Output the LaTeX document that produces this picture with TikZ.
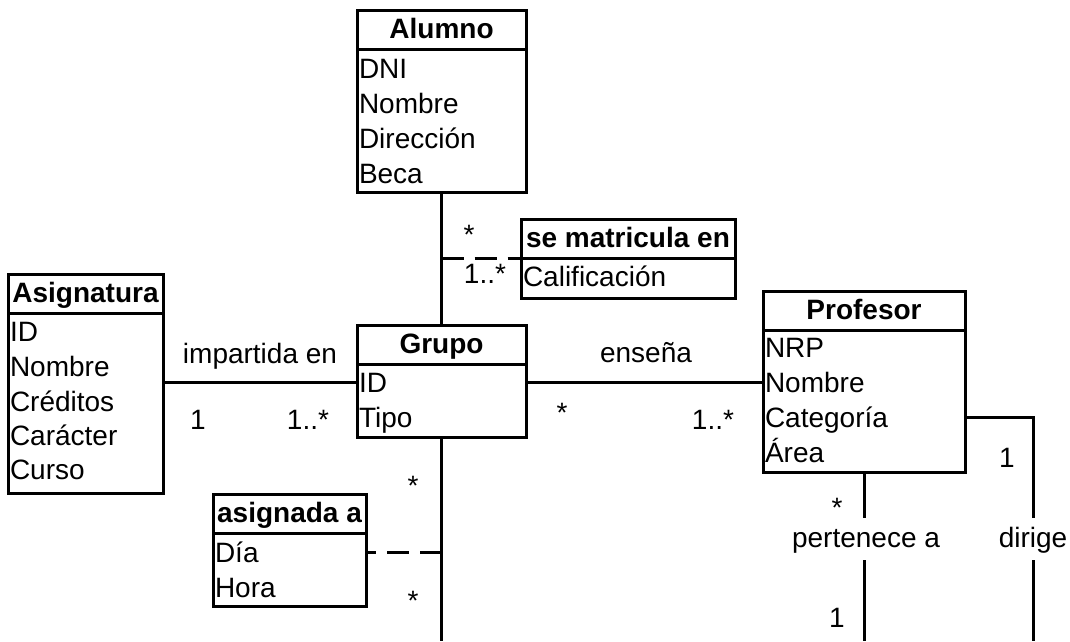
\documentclass[tikz,border=0pt]{standalone}
\usepackage{fontspec}
\setmainfont{Liberation Sans}
\usetikzlibrary{calc}
\begin{document}
\begin{tikzpicture}[x=1pt,y=-1pt,
  every node/.style={font=\fontsize{28}{35}\selectfont},
  hdr/.style={draw, line width=3pt, fill=white, inner sep=0pt, outer sep=0pt,
    minimum height=39pt, text height=24pt, text depth=7pt,
    font=\fontsize{28}{35}\selectfont\bfseries},
  bdy/.style={draw, line width=3pt, fill=white, inner sep=0pt, outer sep=0pt, anchor=north},
  att/.style={anchor=base west, inner sep=0pt, outer sep=0pt, text height=20pt, text depth=0pt},
  lbl/.style={anchor=base, inner sep=0pt, outer sep=0pt},
  star/.style={inner sep=0pt, outer sep=0pt},
  gap/.style={anchor=base, inner sep=0pt, outer sep=0pt, text height=29pt, text depth=13pt},
  conn/.style={line width=3pt},
  dsh/.style={line width=3pt, dash pattern=on 22pt off 11pt}]
\useasboundingbox (0,0) rectangle (1070,641);
\fill[white] (0,0) rectangle (1070,641);
\coordinate (bot) at (0,641);

% Alumno
\node[hdr, minimum width=169pt] (alH) at (441.5,29.5) {Alumno};
\node[bdy, minimum width=169pt, minimum height=143pt] (alB) at (alH.south) {};
\node[att] (al1) at (359,78) {DNI};
\node[att] (al2) at (359,113) {Nombre};
\node[att] (al3) at (359,148) {Dirección};
\node[att] (al4) at (359,183) {Beca};

% se matricula en
\node[hdr, minimum width=214pt] (smH) at (628,238.5) {se matricula en};
\node[bdy, minimum width=214pt, minimum height=40pt] (smB) at (smH.south) {};
\node[att] (sm1) at (523,286) {Calificación};

% Asignatura
\node[hdr, minimum width=155pt] (asH) at (85.5,293.5) {Asignatura};
\node[bdy, minimum width=155pt, minimum height=180pt] (asB) at (asH.south) {};
\node[att] (as1) at (10,341) {ID};
\node[att] (as2) at (10,376) {Nombre};
\node[att] (as3) at (10,411) {Créditos};
\node[att] (as4) at (10,445) {Carácter};
\node[att] (as5) at (10,479) {Curso};

% Grupo
\node[hdr, minimum width=169pt] (grH) at (441.5,344.5) {Grupo};
\node[bdy, minimum width=169pt, minimum height=73pt] (grB) at (grH.south) {};
\node[att] (gr1) at (359,392) {ID};
\node[att] (gr2) at (359,427) {Tipo};

% Profesor
\node[hdr, minimum width=202pt] (prH) at (864,310.5) {Profesor};
\node[bdy, minimum width=202pt, minimum height=142pt] (prB) at (prH.south) {};
\node[att] (pr1) at (765,357) {NRP};
\node[att] (pr2) at (765,392) {Nombre};
\node[att] (pr3) at (765,427) {Categoría};
\node[att] (pr4) at (765,462) {Área};

% asignada a
\node[hdr, minimum width=153pt] (agH) at (289.5,514) {asignada a};
\node[bdy, minimum width=153pt, minimum height=73pt] (agB) at (agH.south) {};
\node[att] (ag1) at (215,562) {Día};
\node[att] (ag2) at (215,597) {Hora};

% labels
\node[lbl] (limp) at (260,363) {impartida en};
\node[lbl] (limp1) at (198,429) {1};
\node[lbl] (limp2) at (308,429) {1..*};
\node[lbl] (lens) at (646,362) {enseña};
\node[star] (lens1) at (562,413) {*};
\node[lbl] (lens2) at (713,429) {1..*};
\node[star] (lmat1) at (469,235) {*};
\node[lbl] (lmat2) at (485,283) {1..*};
\node[star] (lasg1) at (413,486) {*};
\node[star] (lasg2) at (413,601) {*};
\node[lbl] (ldir1) at (1007,467) {1};
\node[gap] (ldir) at (1033,547) {dirige};
\node[star] (lper1) at (837,508) {*};
\node[gap] (lper) at (866,547) {pertenece a};
\node[lbl] (lper2) at (837,627) {1};

% connectors
\draw[conn] (alB.south) -- (grH.north);
\coordinate (j1) at (alB.south |- smH.south);
\draw[dsh] (j1) -- (smH.south west);
\draw[conn] (gr1.west -| asB.east) -- (gr1.west -| grB.west);
\draw[conn] (gr1.west -| grB.east) -- (gr1.west -| prB.west);
\draw[conn] (grB.south) -- (grB.south |- bot);
\coordinate (j2) at (grB.south |- ag1.west);
\draw[dsh] (j2) -- (ag1.west -| agB.east);
\draw[conn] (pr3.west -| prB.east) -| (ldir.north);
\draw[conn] (ldir.south) -- (ldir.south |- bot);
\draw[conn] (prB.south) -- (prB.south |- lper.north);
\draw[conn] (prB.south |- lper.south) -- (prB.south |- bot);
\end{tikzpicture}
\end{document}
